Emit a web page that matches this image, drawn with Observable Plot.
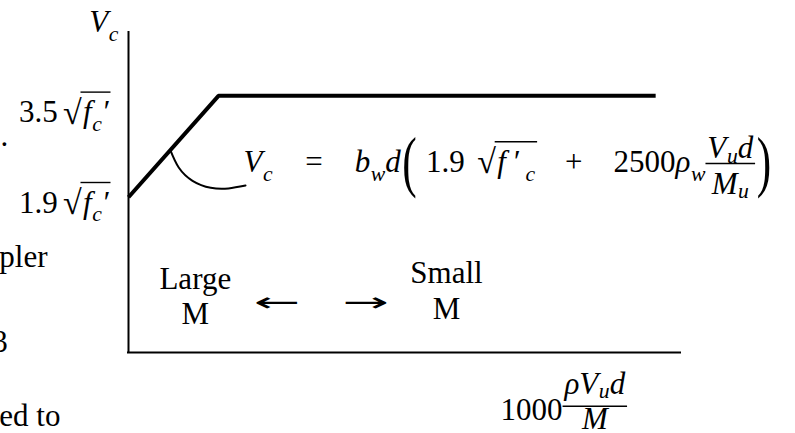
<!DOCTYPE html>
<html><head><meta charset="utf-8">
<script src="https://cdn.jsdelivr.net/npm/d3@7"></script>
<script src="https://cdn.jsdelivr.net/npm/@observablehq/plot@0.6"></script>
<style>
html,body{margin:0;padding:0;background:#fff;overflow:hidden}
#chart svg{display:block}
</style></head><body><div id="chart"></div>
<script>
// ---------------- data ----------------
const rampX = [0, 16.3, 95.5];          // 1000ρVud/M (schematic)
const rampY = [1.9, 3.5, 3.5];          // Vc in multiples of √fc′
const arcX = [7.6, 9.1, 11.6, 14.9, 18.1, 21.2];   // callout arc
const arcY = [2.64, 2.37, 2.16, 2.05, 2.04, 2.085];
const yTickValues = [3.5, 1.9];
const yTickLabels = ["3.5 √fc′", "1.9 √fc′"];
const yTitle = "Vc";
const xTitle = "1000ρVud/M";
const formulaText = "Vc = bwd(1.9 √f′c + 2500ρwVud/Mu)";
const regionTop = ["Large", "Small"];
const regionBottom = ["M", "M"];
const arrowLabels = ["←", "→"];
const fragmentLabels = [".", "pler", "3", "ed to"];

// ---------------- layout (annotation placement) ----------------
const layout = {
  xDomain: [0, 100], yDomain: [-0.55, 4.5],
  tickDx: -18, tickDy: [26, 15],
  regionX: [12.1, 57.6], regionTopY: [0.46, 0.555], regionBottomY: [-0.092, -0.013],
  arrowX: [27.0, 42.9], arrowY: 0.113,
  fragX: [-23.2, -23.4, -24.7, -23.4], fragY: [2.717, 0.807, -0.534, -1.702],
  xTitleX: 67.4, xTitleDy: 67
};
const FS = 31;

const ramp = rampX.map((x, i) => ({x, y: rampY[i]}));
const arc = arcX.map((x, i) => ({x, y: arcY[i]}));

// ---------------- math typesetting helpers ----------------
const T = s => ({t: s}), I = s => ({t: s, it: true});
const Sub = (...k) => ({sub: k}), Sq = (...k) => ({sqrt: k});
const Fr = (n, d) => ({frac: [n, d]}), G = em => ({gap: em});
const Sc = (s, o) => ({sc: s, ...o});
const PAREN = {sx: 1.4, sy: 2.2, dy: 0.38};

const specs = {};
specs[yTitle] = {anchor: "end", tokens: [I("V"), Sub(I("c"))]};
yTickLabels.forEach(l => specs[l] = {anchor: "end",
  tokens: [T(l.slice(0, 3)), G(0.17), Sq(I("f"), Sub(I("c")), I("′"))]});
specs[formulaText] = {anchor: "start", numUp: 0.45, denDown: 0.7, barUp: 0.27,
  tokens: [I("V"), Sub(I("c")), G(1.05), T("="), G(1.03), I("b"), Sub(I("w")), I("d"), G(0.05),
    Sc("(", PAREN), G(0.3), T("1.9"), G(0.4), Sq(I("f"), G(0.2), I("′"), G(0.2), Sub(I("c"))),
    G(0.9), T("+"), G(1.0), T("2500"), I("ρ"), Sub(I("w")),
    Fr([I("V"), Sub(I("u")), I("d")], [I("M"), Sub(I("u"))]), G(0.05), Sc(")", PAREN)]};
specs[xTitle] = {anchor: "start", numUp: 0.84, denDown: 0.3, barUp: 0.44,
  tokens: [T("1000"), Fr([I("ρ"), I("V"), Sub(I("u")), I("d")], [I("M")])]};
[...regionTop, ...regionBottom].forEach(l => specs[l] = {anchor: "middle", tokens: [T(l)]});
arrowLabels.forEach(l => specs[l] = {anchor: "middle",
  tokens: [Sc(l, {sx: 2.1, sy: 1, dy: 0.02, rel: 0.85, family: "'DejaVu Sans', sans-serif"})]});
fragmentLabels.forEach(l => specs[l] = {anchor: "start", tokens: [T(l)]});

const DEFAULTS = {size: FS, numUp: 0.45, denDown: 0.7, barUp: 0.28, fracPad: 0.06,
  sqrtTop: 0.97, sqrtScale: 1.1, sqrtDy: 0.05, sqrtJoin: 0.04, lineW: 1.4};
const NS = "http://www.w3.org/2000/svg";

function layoutTokens(ctx, P, toks, x, y, size, level) {
  for (const k of toks) {
    if (k.t != null) x += ctx.run(k.t, x, y, size, k.it);
    else if (k.gap != null) x += k.gap * size;
    else if (k.sub) x = layoutTokens(ctx, P, k.sub, x + 0.02 * size, y + (level ? 0.15 : 0.28) * size, size * 0.7, level + 1);
    else if (k.sc) x += ctx.scaled(k.sc, x, y + (k.dy || 0) * size, size * (k.rel || 1), k.sx, k.sy, k.family);
    else if (k.sqrt) {
      const w = ctx.run("√", x, y + P.sqrtDy * size, size * P.sqrtScale, false);
      const x0 = x + w;
      const x1 = layoutTokens(ctx, P, k.sqrt, x0 + 0.04 * size, y, size, level) + 0.06 * size;
      ctx.line(x0 - P.sqrtJoin * size, x1, y - P.sqrtTop * size);
      x = x1;
    } else if (k.frac) {
      const [num, den] = k.frac;
      const a = ctx.items.length;
      const xn = layoutTokens(ctx, P, num, x, y - P.numUp * size, size, level + 1);
      const b = ctx.items.length;
      const xd = layoutTokens(ctx, P, den, x, y + P.denDown * size, size, level + 1);
      const c = ctx.items.length;
      const wn = xn - x, wd = xd - x, pad = P.fracPad * size, W = Math.max(wn, wd) + 2 * pad;
      ctx.shift(a, b, (W - wn) / 2);
      ctx.shift(b, c, (W - wd) / 2);
      ctx.line(x, x + W, y - P.barUp * size);
      x += W;
    }
  }
  return x;
}

function typeset(el, spec) {
  const P = Object.assign({}, DEFAULTS, spec);
  const ox = parseFloat(el.getAttribute("x")) || 0;
  const oy = parseFloat(el.getAttribute("y")) || 0;
  el.removeAttribute("dy");
  el.setAttribute("text-anchor", "start");
  while (el.firstChild) el.removeChild(el.firstChild);
  const g = document.createElementNS(NS, "g");
  const tr = el.getAttribute("transform");
  if (tr) g.setAttribute("transform", tr);
  g.setAttribute("text-anchor", "start");
  el.parentNode.insertBefore(g, el.nextSibling);
  const items = [];
  const ctx = {
    items,
    run(str, x, y, sz, it) {
      const ts = document.createElementNS(NS, "tspan");
      ts.setAttribute("x", x); ts.setAttribute("y", y);
      ts.setAttribute("font-size", sz);
      ts.setAttribute("font-style", it ? "italic" : "normal");
      ts.textContent = str;
      el.appendChild(ts);
      items.push(d => ts.setAttribute("x", +ts.getAttribute("x") + d));
      return ts.getComputedTextLength();
    },
    scaled(str, x, y, sz, sx, sy, family) {
      const t = document.createElementNS(NS, "text");
      let px = x;
      const place = () => t.setAttribute("transform", `translate(${px},${y}) scale(${sx},${sy})`);
      place();
      t.setAttribute("font-size", sz);
      if (family) t.setAttribute("font-family", family);
      t.setAttribute("fill", "#000");
      t.textContent = str;
      g.appendChild(t);
      items.push(d => { px += d; place(); });
      return t.getComputedTextLength() * sx;
    },
    line(x1, x2, y) {
      const ln = document.createElementNS(NS, "line");
      ln.setAttribute("x1", x1); ln.setAttribute("x2", x2);
      ln.setAttribute("y1", y); ln.setAttribute("y2", y);
      ln.setAttribute("stroke", "#000"); ln.setAttribute("stroke-width", P.lineW);
      g.appendChild(ln);
      items.push(d => { ln.setAttribute("x1", +ln.getAttribute("x1") + d); ln.setAttribute("x2", +ln.getAttribute("x2") + d); });
    },
    shift(a, b, d) { for (let i = a; i < b; i++) items[i](d); }
  };
  const end = layoutTokens(ctx, P, P.tokens, ox, oy, P.size, 0);
  const W = end - ox;
  const d = P.anchor === "end" ? -W : P.anchor === "middle" ? -W / 2 : 0;
  if (d) ctx.shift(0, items.length, d);
}

// ---------------- plot ----------------
const txt = {fontSize: FS, fill: "#000"};
const chart = Plot.plot({
  width: 795, height: 433,
  marginLeft: 128, marginRight: 115, marginTop: 32, marginBottom: 81,
  x: {domain: layout.xDomain, axis: null},
  y: {domain: layout.yDomain, axis: null},
  style: {fontFamily: "'Liberation Serif', 'Times New Roman', serif", fontSize: FS + "px", background: "#fff", color: "#000"},
  marks: [
    Plot.ruleX([layout.xDomain[0]], {stroke: "#000", strokeWidth: 2, strokeLinecap: "square"}),
    Plot.ruleY([layout.yDomain[0]], {stroke: "#000", strokeWidth: 2, strokeLinecap: "square"}),
    Plot.line(ramp, {x: "x", y: "y", stroke: "#000", strokeWidth: 4, strokeLinejoin: "miter", strokeLinecap: "butt"}),
    Plot.line(arc, {x: "x", y: "y", curve: "natural", stroke: "#000", strokeWidth: 2}),
    Plot.text([yTitle], {x: () => layout.xDomain[0], y: () => layout.yDomain[1], text: d => d, dx: -10, dy: -1, ...txt}),
    ...yTickValues.map((v, i) => Plot.text([v], {x: () => 0, y: d => d, text: () => yTickLabels[i], dx: layout.tickDx, dy: layout.tickDy[i], ...txt})),
    Plot.text([formulaText], {x: () => arcX[arcX.length - 1], y: () => arcY[arcY.length - 1], text: d => d, dx: -2, dy: -14, ...txt}),
    Plot.text([xTitle], {x: () => layout.xTitleX, y: () => layout.yDomain[0], text: d => d, dy: layout.xTitleDy, ...txt}),
    Plot.text(regionTop, {x: (d, i) => layout.regionX[i], y: (d, i) => layout.regionTopY[i], text: d => d, ...txt}),
    Plot.text(regionBottom, {x: (d, i) => layout.regionX[i], y: (d, i) => layout.regionBottomY[i], text: d => d, ...txt}),
    Plot.text(arrowLabels, {x: (d, i) => layout.arrowX[i], y: () => layout.arrowY, text: d => d, ...txt}),
    Plot.text(fragmentLabels, {x: (d, i) => layout.fragX[i], y: (d, i) => layout.fragY[i], text: d => d, ...txt})
  ]
});
document.getElementById("chart").appendChild(chart);
chart.querySelectorAll("text").forEach(el => {
  const key = el.textContent;
  if (specs[key]) typeset(el, specs[key]);
});
</script></body></html>
